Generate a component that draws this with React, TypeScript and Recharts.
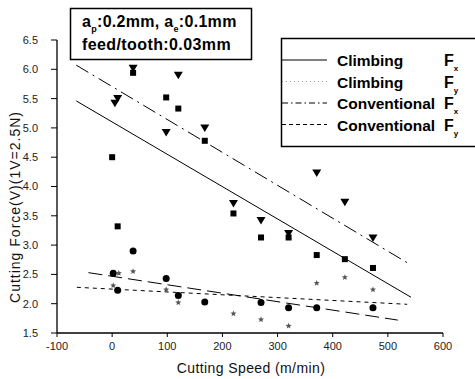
import React from 'react';
import { ScatterChart, Scatter, XAxis, YAxis } from 'recharts';

// ---- data ----
const squareSpeed = [0, 10, 38, 98, 120, 168, 220, 270, 320, 371, 422, 473];
const squareForce = [4.5, 3.32, 5.94, 5.52, 5.33, 4.78, 3.54, 3.13, 3.13, 2.83, 2.76, 2.61];

const triangleSpeed = [5, 10, 38, 98, 120, 168, 220, 270, 320, 371, 422, 473];
const triangleForce = [5.42, 5.5, 6.02, 4.92, 5.9, 5.0, 3.71, 3.42, 3.2, 4.23, 3.73, 3.12];

const circleSpeed = [2, 10, 38, 98, 120, 168, 270, 320, 371, 473];
const circleForce = [2.52, 2.23, 2.9, 2.43, 2.14, 2.03, 2.02, 1.93, 1.93, 1.93];

const starSpeed = [2, 12, 38, 98, 120, 220, 270, 320, 371, 422, 473];
const starForce = [2.31, 2.52, 2.55, 2.24, 2.02, 1.83, 1.73, 1.62, 2.35, 2.45, 2.24];

// fitted lines (end points)
const climbFxSpeed = [-65, 542];
const climbFxForce = [5.46, 2.11];
const convFxSpeed = [-65, 535];
const convFxForce = [6.07, 2.7];
const climbFySpeed = [-43, 518];
const climbFyForce = [2.53, 1.72];
const convFySpeed = [-64, 535];
const convFyForce = [2.28, 1.99];

const xTicks = [-100, 0, 100, 200, 300, 400, 500, 600];
const xMinorTicks = [-50, 50, 150, 250, 350, 450, 550];
const yTicks = [1.5, 2.0, 2.5, 3.0, 3.5, 4.0, 4.5, 5.0, 5.5, 6.0, 6.5];
const yMinorTicks = [1.75, 2.25, 2.75, 3.25, 3.75, 4.25, 4.75, 5.25, 5.75, 6.25];

const legendLabels = ['Climbing', 'Climbing', 'Conventional', 'Conventional'];
const legendSubs = ['x', 'y', 'x', 'y'];

const toPts = (xs: number[], ys: number[]) => xs.map((x, i) => ({ x, y: ys[i] }));

const FONT = '"Liberation Sans", Arial, sans-serif';

const Square = (p: any) => <rect x={p.cx - 3} y={p.cy - 3} width={6} height={6} fill="#000" />;
const TriDown = (p: any) => (
  <path d={`M${p.cx - 4.5},${p.cy - 3.5} L${p.cx + 4.5},${p.cy - 3.5} L${p.cx},${p.cy + 4} Z`} fill="#000" />
);
const Dot = (p: any) => <circle cx={p.cx} cy={p.cy} r={3.5} fill="#000" />;
const Star = (p: any) => {
  const pts: string[] = [];
  for (let i = 0; i < 10; i++) {
    const r = i % 2 === 0 ? 3.2 : 1.4;
    const a = -Math.PI / 2 + (i * Math.PI) / 5;
    pts.push(`${p.cx + r * Math.cos(a)},${p.cy + r * Math.sin(a)}`);
  }
  return <polygon points={pts.join(' ')} fill="#555" />;
};
const NoShape = () => <g />;

const legendDash = ['0', '1 3', '6 3 1.5 3', '4 3'];
const legendStroke = ['#000', '#999', '#000', '#000'];

export default function App() {
  return (
    <div style={{ position: 'absolute', left: 0, top: 0, width: 475, height: 379, background: '#fff', fontFamily: FONT }}>
      <ScatterChart width={475} height={379} margin={{ top: 40, right: 32, bottom: 16, left: 17 }}>
        <XAxis
          xAxisId="minor"
          type="number"
          dataKey="x"
          domain={[-100, 600]}
          ticks={xMinorTicks}
          allowDataOverflow
          height={0}
          tickSize={3}
          tick={false}
          axisLine={false}
          tickLine={{ stroke: '#000' }}
        />
        <XAxis
          type="number"
          dataKey="x"
          domain={[-100, 600]}
          ticks={xTicks}
          allowDataOverflow
          height={30}
          tickSize={4}
          tickMargin={5}
          axisLine={{ stroke: '#000', strokeWidth: 1.3 }}
          tickLine={{ stroke: '#000' }}
          tick={{ fontSize: 11, fill: '#222', fontFamily: FONT }}
        />
        <YAxis
          yAxisId="minor"
          type="number"
          dataKey="y"
          domain={[1.5, 6.5]}
          ticks={yMinorTicks}
          allowDataOverflow
          width={0}
          mirror
          tickSize={3}
          tick={false}
          axisLine={false}
          tickLine={{ stroke: '#000' }}
        />
        <YAxis
          type="number"
          dataKey="y"
          domain={[1.5, 6.5]}
          ticks={yTicks}
          allowDataOverflow
          width={40}
          tickSize={6}
          tickMargin={13}
          tickFormatter={(v: number) => v.toFixed(1)}
          axisLine={{ stroke: '#000', strokeWidth: 1.3 }}
          tickLine={{ stroke: '#000' }}
          tick={{ fontSize: 11, fill: '#222', fontFamily: FONT }}
        />
        <Scatter data={toPts(climbFxSpeed, climbFxForce)} line={{ stroke: '#000', strokeWidth: 1 }} lineType="joint" shape={NoShape} isAnimationActive={false} />
        <Scatter data={toPts(convFxSpeed, convFxForce)} line={{ stroke: '#000', strokeWidth: 1, strokeDasharray: '14 5 2 5' }} lineType="joint" shape={NoShape} isAnimationActive={false} />
        <Scatter data={toPts(climbFySpeed, climbFyForce)} line={{ stroke: '#000', strokeWidth: 1, strokeDasharray: '14 6' }} lineType="joint" shape={NoShape} isAnimationActive={false} />
        <Scatter data={toPts(convFySpeed, convFyForce)} line={{ stroke: '#000', strokeWidth: 1, strokeDasharray: '4 4' }} lineType="joint" shape={NoShape} isAnimationActive={false} />
        <Scatter data={toPts(squareSpeed, squareForce)} shape={Square} isAnimationActive={false} />
        <Scatter data={toPts(triangleSpeed, triangleForce)} shape={TriDown} isAnimationActive={false} />
        <Scatter data={toPts(circleSpeed, circleForce)} shape={Dot} isAnimationActive={false} />
        <Scatter data={toPts(starSpeed, starForce)} shape={Star} isAnimationActive={false} />
      </ScatterChart>

      <svg width={475} height={379} style={{ position: 'absolute', left: 0, top: 0, pointerEvents: 'none' }}>
        {/* axis titles */}
        <text x={251} y={373} textAnchor="middle" fontSize={14} fontFamily={FONT} fill="#111" letterSpacing={0.4}>
          Cutting Speed (m/min)
        </text>
        <text x={20} y={207} transform="rotate(-90 20 207)" textAnchor="middle" fontSize={14} fontFamily={FONT} fill="#111" letterSpacing={1}>
          Cutting Force(V)(1V=2.5N)
        </text>

        {/* annotation box */}
        <rect x={70.5} y={8.5} width={181} height={51} fill="#fff" stroke="#000" strokeWidth={1.5} />
        <text x={82} y={27} fontSize={16} fontWeight="bold" fontFamily={FONT} fill="#000" letterSpacing={0.3}>
          a<tspan fontSize={9} dy={5}>p</tspan>
          <tspan dy={-5}>:0.2mm, a</tspan>
          <tspan fontSize={9} dy={5}>e</tspan>
          <tspan dy={-5}>:0.1mm</tspan>
        </text>
        <text x={82} y={50} fontSize={16} fontWeight="bold" fontFamily={FONT} fill="#000" letterSpacing={0.4}>
          feed/tooth:0.03mm
        </text>

        {/* legend */}
        <rect x={281.5} y={38.5} width={200} height={108} fill="#fff" stroke="#000" strokeWidth={1.5} />
        {legendLabels.map((lab, i) => {
          const ly = 60 + i * 21.5;
          return (
            <g key={i}>
              <line x1={282} x2={327} y1={ly} y2={ly} stroke={legendStroke[i]} strokeWidth={1} strokeDasharray={legendDash[i]} />
              <text x={337} y={ly + 6} fontSize={15.5} fontWeight="bold" fontFamily={FONT} fill="#000">
                {lab}
              </text>
              <text x={444} y={ly + 6} fontSize={16} fontWeight="bold" fontFamily={FONT} fill="#000">
                F<tspan fontSize={8} dy={5}>{legendSubs[i]}</tspan>
              </text>
            </g>
          );
        })}
      </svg>
    </div>
  );
}
